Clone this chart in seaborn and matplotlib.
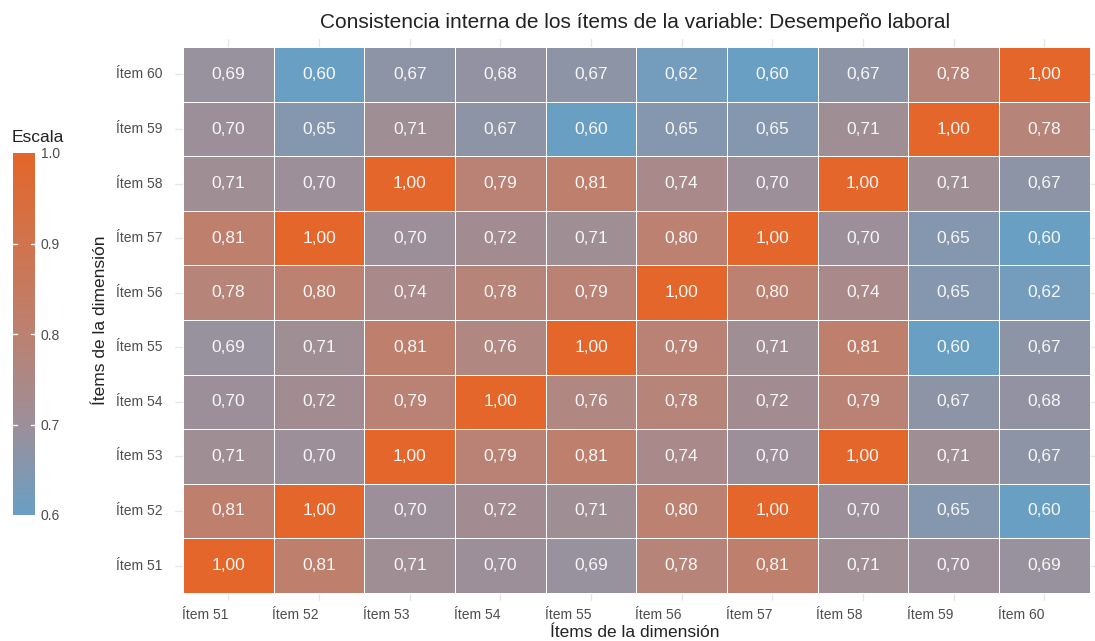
import numpy as np
import pandas as pd
import seaborn as sns
import matplotlib.pyplot as plt
from matplotlib.colors import LinearSegmentedColormap


# data ----------------------------------------------------------------
items = ["Ítem 51", "Ítem 52", "Ítem 53", "Ítem 54", "Ítem 55",
         "Ítem 56", "Ítem 57", "Ítem 58", "Ítem 59", "Ítem 60"]

item_51 = [1.00, 0.81, 0.71, 0.70, 0.69, 0.78, 0.81, 0.71, 0.70, 0.69]
item_52 = [0.81, 1.00, 0.70, 0.72, 0.71, 0.80, 1.00, 0.70, 0.65, 0.60]
item_53 = [0.71, 0.70, 1.00, 0.79, 0.81, 0.74, 0.70, 1.00, 0.71, 0.67]
item_54 = [0.70, 0.72, 0.79, 1.00, 0.76, 0.78, 0.72, 0.79, 0.67, 0.68]
item_55 = [0.69, 0.71, 0.81, 0.76, 1.00, 0.79, 0.71, 0.81, 0.60, 0.67]
item_56 = [0.78, 0.80, 0.74, 0.78, 0.79, 1.00, 0.80, 0.74, 0.65, 0.62]
item_57 = [0.81, 1.00, 0.70, 0.72, 0.71, 0.80, 1.00, 0.70, 0.65, 0.60]
item_58 = [0.71, 0.70, 1.00, 0.79, 0.81, 0.74, 0.70, 1.00, 0.71, 0.67]
item_59 = [0.70, 0.65, 0.71, 0.67, 0.60, 0.65, 0.65, 0.71, 1.00, 0.78]
item_60 = [0.69, 0.60, 0.67, 0.68, 0.67, 0.62, 0.60, 0.67, 0.78, 1.00]

rows = [item_51, item_52, item_53, item_54, item_55,
        item_56, item_57, item_58, item_59, item_60]

# matrix with Item 60 on top
corr = pd.DataFrame(rows, index=items, columns=items).iloc[::-1]
labels = corr.map(lambda v: f"{v:.2f}".replace(".", ","))

# colours: steel blue -> grey -> orange
cmap = LinearSegmentedColormap.from_list(
    "escala",
    [(0.0, "#6a9fc4"), (0.25, "#9d8f99"), (0.5, "#bc8171"), (1.0, "#e4662a")],
)

# plot ----------------------------------------------------------------
sns.set_style("white")
plt.rcParams["font.family"] = ["Liberation Sans", "DejaVu Sans"]

fig = plt.figure(figsize=(10.95, 6.41), dpi=100)
ax = fig.add_axes([175 / 1095, 40 / 641, 920 / 1095, 562 / 641])
cax = fig.add_axes([13 / 1095, (641 - 515) / 641, 22 / 1095, 362 / 641])

sns.heatmap(
    corr,
    ax=ax,
    cbar_ax=cax,
    cmap=cmap,
    vmin=0.6,
    vmax=1.0,
    annot=labels,
    fmt="",
    annot_kws={"color": "#f7f7f7", "fontsize": 12.5},
    linewidths=0.6,
    linecolor="white",
)

# panel margins with faint grid lines like ggplot
ax.set_xlim(-0.09, 10.06)
ax.set_ylim(10.15, -0.15)
for k in range(10):
    ax.axvline(k + 0.5, color="#e6e6e6", lw=1, zorder=0)
    ax.axhline(k + 0.5, color="#e6e6e6", lw=1, zorder=0)

ax.tick_params(axis="both", length=0, labelsize=10, labelcolor="#4d4d4d")
ax.tick_params(axis="y", pad=9)
ax.tick_params(axis="x", pad=5)
ax.set_xticklabels(items, rotation=0, ha="right")
ax.set_yticklabels(corr.index, rotation=0)
ax.set_xlabel("Ítems de la dimensión", fontsize=12.5, color="#222222", labelpad=2)
ax.set_ylabel("Ítems de la dimensión", fontsize=12.5, color="#222222", labelpad=6)
ax.set_title("Consistencia interna de los ítems de la variable: Desempeño laboral",
             fontsize=15, color="#222222", pad=8)
for s in ax.spines.values():
    s.set_visible(False)

# legend
cax.set_yticks([0.6, 0.7, 0.8, 0.9, 1.0])
cax.set_yticklabels(["0.6", "0.7", "0.8", "0.9", "1.0"])
cax.tick_params(length=0, labelsize=10, labelcolor="#4d4d4d", pad=4)
for t in [0.7, 0.8, 0.9]:
    cax.plot([0, 0.18], [t, t], color="white", lw=1, transform=cax.get_yaxis_transform())
    cax.plot([0.82, 1], [t, t], color="white", lw=1, transform=cax.get_yaxis_transform())
for s in cax.spines.values():
    s.set_visible(False)
fig.text(12 / 1095, 1 - 138 / 641, "Escala", fontsize=12.5, color="#222222", va="center")

fig.savefig("out.png", dpi=100)
